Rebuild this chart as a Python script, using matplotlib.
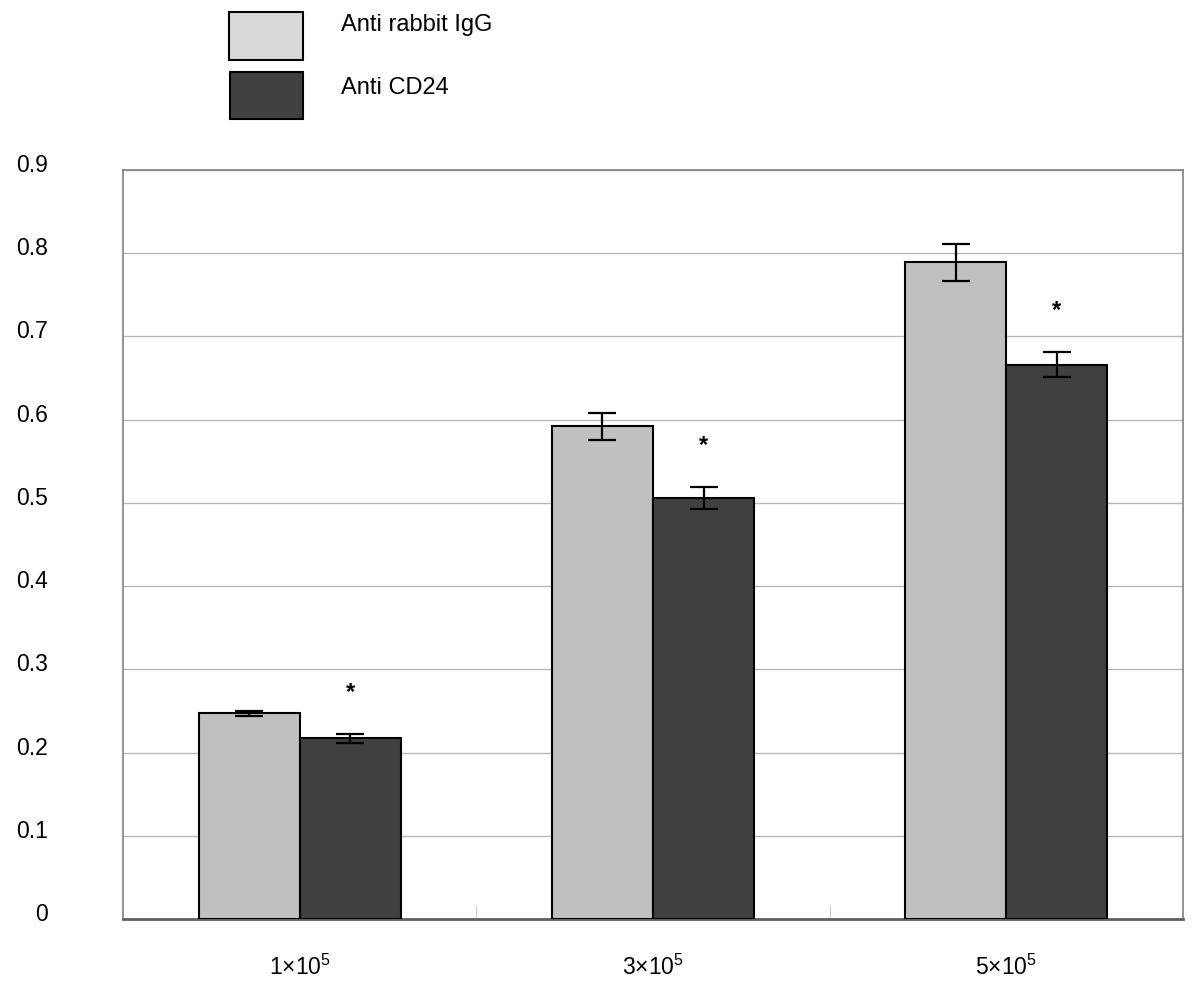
import matplotlib
matplotlib.use("Agg")
import matplotlib.pyplot as plt
import matplotlib.transforms as mtransforms
from matplotlib.patches import Rectangle
import numpy as np

plt.rcParams['font.family'] = ['Liberation Sans', 'DejaVu Sans']
plt.rcParams['mathtext.fontset'] = 'custom'
plt.rcParams['mathtext.rm'] = 'Liberation Sans'
plt.rcParams['mathtext.it'] = 'Liberation Sans:italic'
plt.rcParams['mathtext.bf'] = 'Liberation Sans:bold'

categories = ["1×10$^5$", "3×10$^5$", "5×10$^5$"]
series_names = ["Anti rabbit IgG", "Anti CD24"]
igg_vals = [0.247, 0.592, 0.789]
igg_err = [0.003, 0.016, 0.022]
cd24_vals = [0.217, 0.506, 0.666]
cd24_err = [0.005, 0.013, 0.015]
significant = [True, True, True]
yticks = [0, 0.1, 0.2, 0.3, 0.4, 0.5, 0.6, 0.7, 0.8, 0.9]
ytick_labels = ["0", "0.1", "0.2", "0.3", "0.4", "0.5", "0.6", "0.7", "0.8", "0.9"]

bar_light = "#c0c0c0"
bar_dark = "#404040"
legend_light = "#d9d9d9"

fig = plt.figure(figsize=(12, 9.88), dpi=100)
ax = fig.add_axes([0.1025, 0.0698, 0.8833, 0.7581])

x = np.arange(len(categories))
w = 0.286
ax.bar(x - w/2, igg_vals, w, color=bar_light, edgecolor="black", linewidth=1.5, zorder=3)
ax.bar(x + w/2, cd24_vals, w, color=bar_dark, edgecolor="black", linewidth=1.5, zorder=3)
ax.errorbar(x - w/2, igg_vals, yerr=igg_err, fmt="none", ecolor="black",
            elinewidth=1.6, capsize=10, capthick=1.6, zorder=4)
ax.errorbar(x + w/2, cd24_vals, yerr=cd24_err, fmt="none", ecolor="black",
            elinewidth=1.6, capsize=10, capthick=1.6, zorder=4)

for xi, v, e, s in zip(x, cd24_vals, cd24_err, significant):
    if s:
        ax.text(xi + w/2, v + e + 0.05, "*", ha="center", va="center",
                fontsize=17, fontweight="bold", zorder=5)

ax.set_xlim(-0.5, 2.5)
ax.set_ylim(0, 0.9)
ax.set_yticks(yticks)
ax.set_yticklabels(ytick_labels, fontsize=16.5)
ax.set_xticks(x)
ax.set_xticklabels(categories, fontsize=16.5)
ax.tick_params(axis="y", length=0, pad=54)
ax.tick_params(axis="x", length=0, pad=26)
ax.set_xticks([0.5, 1.5], minor=True)
ax.tick_params(axis="x", which="minor", direction="in", length=10, color="#d0d0d0", width=0.8)

offset = mtransforms.ScaledTranslation(0, 7/100, fig.dpi_scale_trans)
for lbl in ax.get_yticklabels():
    lbl.set_transform(lbl.get_transform() + offset)
    lbl.set_horizontalalignment("right")

ax.grid(axis="y", color="#b8b8b8", linewidth=1.0, zorder=0)
ax.set_axisbelow(True)
for side in ["left", "top", "right"]:
    ax.spines[side].set_color("#808080")
    ax.spines[side].set_linewidth(1.2)
ax.spines["bottom"].set_color("#606060")
ax.spines["bottom"].set_linewidth(2.0)

# legend (manual)
H = 988.0
def fy(py):
    return 1 - py / H
fig.patches.append(Rectangle((229/1200, fy(60)), 74/1200, 48/H, transform=fig.transFigure,
                             facecolor=legend_light, edgecolor="black", linewidth=1.5))
fig.patches.append(Rectangle((230/1200, fy(119)), 73/1200, 47/H, transform=fig.transFigure,
                             facecolor=bar_dark, edgecolor="black", linewidth=1.5))
fig.text(341/1200, fy(22), series_names[0], fontsize=17, va="center_baseline", ha="left")
fig.text(341/1200, fy(85), series_names[1], fontsize=17, va="center_baseline", ha="left")

fig.savefig("out.png", dpi=100)
